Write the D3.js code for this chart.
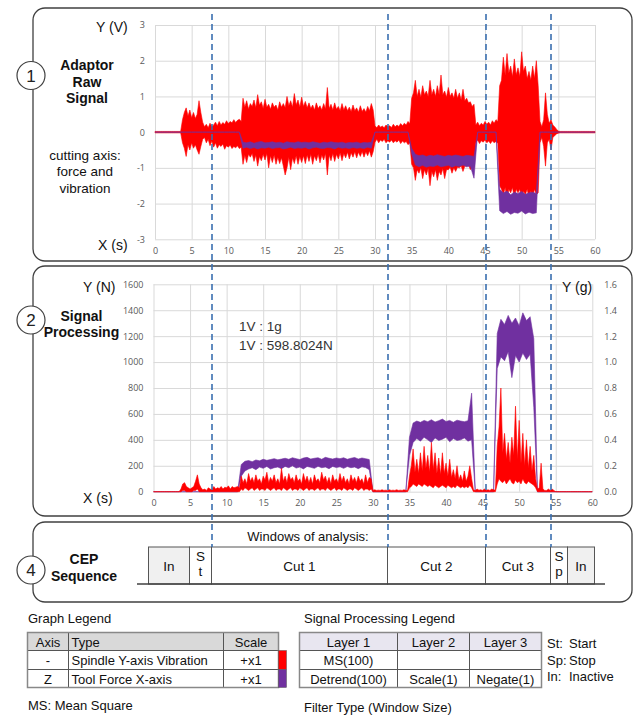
<!DOCTYPE html>
<html>
<head>
<meta charset="utf-8">
<script src="https://cdn.jsdelivr.net/npm/d3@7"></script>
<style>
  body { margin: 0; background: #fff; }
  svg { display: block; font-family: "Liberation Sans", Arial, sans-serif; }
</style>
</head>
<body>
<div id="figure"></div>
<script>
// force traces are read every 0.5 s, vibration traces every 0.25 s (0 .. 60 s)
var sampleTimes = d3.range(0, 60.5, 0.5);
var fineTimes = d3.range(0, 60.25, 0.25);

var xTicks = [0, 5, 10, 15, 20, 25, 30, 35, 40, 45, 50, 55, 60];
var rawTicks = [-3, -2, -1, 0, 1, 2, 3];
var forceTicks = [0, 200, 400, 600, 800, 1000, 1200, 1400, 1600];
var accelTicks = [0, 0.2, 0.4, 0.6, 0.8, 1.0, 1.2, 1.4, 1.6];

// panel 1: raw adaptor signal (V), upper / lower envelope of each trace
var rawVibHi = [0.02,0.02,0.02,0.02,0.02,0.02,0.02,0.02,0.02,0.02,0.02,0.02,0.02,0.02,0.02,
  0.35,0.55,0.68,0.45,0.62,0.4,0.55,0.38,0.5,0.88,0.55,0.28,
  0.15,0.22,0.12,0.25,0.15,0.2,0.28,0.18,0.3,0.2,0.27,0.22,0.32,0.24,0.3,0.26,0.35,0.27,0.33,0.36,0.3,
  0.95,0.7,0.88,0.65,0.8,0.72,0.9,0.68, 1.05,0.75,0.85,0.66,0.92,0.7,0.78,0.64,
  0.82,0.7,0.76,0.62,0.85,0.7,0.8,0.68, 1.0,0.74,0.88,0.7,1.08,0.76,0.9,0.7,
  0.98,0.72,0.86,0.68,0.82,0.66,0.76,0.62, 0.82,0.66,0.74,0.62,0.8,0.65,1.25,0.66,
  0.78,0.62,0.82,0.64,0.72,0.6,0.8,0.62, 0.74,0.6,0.7,0.58,0.76,0.6,0.68,0.56,
  0.74,0.58,0.66,0.56,0.72,0.6,0.8,0.62,
  0.18,0.12,0.2,0.14,0.17,0.12,0.2,0.15,0.18,0.13,0.22,0.15,0.2,0.16,0.24,0.18,0.25,0.2,0.3,0.24,
  0.95,1.1,1.45,1.0, 1.2,0.98,1.3,1.05, 1.15,1.0,1.45,1.05, 1.2,1.0,1.3,1.05, 1.6,1.05,1.15,0.98,
  1.25,1.0,1.1,0.95, 1.2,0.95,1.1,0.9, 1.2,0.88,0.95,0.82, 0.85,0.72,0.78,
  0.2,0.28,0.18,0.25,0.2,0.3,0.22,0.28,0.2,0.32,0.25,0.35,0.3,
  1.3,1.45,2.1,1.6, 2.2,1.65,1.85,1.55, 2.05,1.6,1.8,1.55, 2.25,1.7,1.85,1.5, 1.7,1.45,1.85,1.5, 2.0,1.3,
  0.3,0.15,0.35,1.1,0.5,0.25,0.35,0.2,0.15,0.08,0.03,
  0.02,0.02,0.02,0.02,0.02,0.02,0.02,0.02,0.02,0.02,0.02,0.02,0.02,0.02,0.02,0.02,0.02,0.02,0.02,0.02];
var rawVibLo = [-0.02,-0.02,-0.02,-0.02,-0.02,-0.02,-0.02,-0.02,-0.02,-0.02,-0.02,-0.02,-0.02,-0.02,-0.02,
  -0.3,-0.45,-0.68,-0.35,-0.5,-0.3,-0.45,-0.35,-0.5,-0.62,-0.4,-0.2,
  -0.15,-0.3,-0.2,-0.38,-0.25,-0.42,-0.3,-0.45,-0.35,-0.4,-0.33,-0.48,-0.38,-0.42,-0.36,-0.46,-0.4,-0.44,-0.38,-0.46,-0.42,
  -0.9,-0.65,-0.85,-0.62,-0.7,-0.6,-0.82,-0.64, -0.95,-0.68,-0.8,-0.62,-0.78,-0.6,-1.0,-0.66,
  -0.85,-0.64,-0.9,-0.7,-0.88,-0.72,-0.95,-1.2, -1.0,-0.7,-1.05,-0.72,-0.88,-0.66,-0.9,-0.68,
  -0.85,-0.66,-0.88,-0.64,-0.82,-0.62,-0.9,-0.66, -0.8,-0.62,-0.86,-0.64,-0.78,-0.6,-1.2,-0.64,
  -0.8,-0.6,-0.82,-0.62,-0.75,-0.58,-0.8,-0.6, -0.72,-0.56,-0.75,-0.58,-0.7,-0.55,-0.72,-0.56,
  -0.68,-0.54,-0.7,-0.55,-0.66,-0.52,-0.7,-0.55,
  -0.28,-0.2,-0.3,-0.22,-0.26,-0.2,-0.3,-0.24,-0.28,-0.22,-0.3,-0.24,-0.28,-0.22,-0.32,-0.25,-0.3,-0.26,-0.35,-0.3,
  -0.9,-1.0,-1.35,-1.05, -1.15,-1.0,-1.3,-1.05, -1.2,-1.02,-1.5,-1.1, -1.25,-1.05,-1.35,-1.1, -1.2,-1.02,-1.3,-1.05,
  -1.05,-0.98,-1.15,-1.0, -1.1,-0.98,-1.0,-0.95, -1.1,-0.95,-0.95,-0.9, -1.05,-0.95,-1.0,
  -0.3,-0.22,-0.32,-0.24,-0.28,-0.22,-0.3,-0.25,-0.32,-0.24,-0.3,-0.26,-0.32,
  -1.5,-1.6,-1.75,-1.55, -1.9,-1.6,-1.7,-1.55, -1.85,-1.6,-1.7,-1.6, -1.9,-1.65,-1.75,-1.6, -1.85,-1.65,-1.8,-1.6, -1.75,-1.7,
  -0.3,-0.15,-0.4,-0.95,-0.3,-0.2,-0.5,-0.15,-0.1,-0.05,-0.03,
  -0.02,-0.02,-0.02,-0.02,-0.02,-0.02,-0.02,-0.02,-0.02,-0.02,-0.02,-0.02,-0.02,-0.02,-0.02,-0.02,-0.02,-0.02,-0.02,-0.02];
var rawForceHi = [0,0,0,0,0,0,0,0,0,0,0,0,0,0,0,0,0,0,0,0,0,0,0,0,
  -0.28,-0.3,-0.27,-0.31,-0.28,-0.26,-0.3,-0.29,-0.27,-0.3,-0.28,-0.31,-0.27,-0.29,-0.3,-0.27,-0.29,-0.28,
  -0.3,-0.27,-0.29,-0.31,-0.28,-0.3,-0.27,-0.29,-0.3,-0.28,-0.31,-0.29,-0.3,-0.28,-0.31,-0.29,-0.3,-0.28,
  0,0,0,0,0,0,0,0,0,0,
  -0.45,-0.62,-0.66,-0.64,-0.68,-0.65,-0.67,-0.63,-0.66,-0.68,-0.65,-0.67,-0.64,-0.66,-0.68,-0.65,-0.66,-0.68,
  0,0,0,0,0,0,
  -1.6,-1.7,-1.65,-1.75,-1.68,-1.72,-1.66,-1.74,-1.7,-1.68,-1.72,
  0,0,0,0,0,0,0,0,0,0,0,0,0,0,0,0];
var rawForceLo = [0,0,0,0,0,0,0,0,0,0,0,0,0,0,0,0,0,0,0,0,0,0,0,0,
  -0.45,-0.42,-0.46,-0.43,-0.47,-0.44,-0.45,-0.42,-0.46,-0.44,-0.43,-0.47,-0.45,-0.42,-0.46,-0.44,-0.45,-0.43,
  -0.47,-0.44,-0.42,-0.45,-0.46,-0.43,-0.44,-0.47,-0.42,-0.45,-0.44,-0.46,-0.43,-0.45,-0.44,-0.46,-0.42,-0.45,
  0,0,0,0,0,0,0,0,0,0,
  -0.6,-0.92,-0.97,-0.93,-0.98,-0.95,-0.96,-0.92,-0.97,-0.95,-0.93,-0.98,-0.94,-0.96,-0.92,-0.97,-0.95,-1.29,
  0,0,0,0,0,0,
  -2.2,-2.28,-2.22,-2.3,-2.25,-2.27,-2.21,-2.29,-2.24,-2.28,-2.26,
  0,0,0,0,0,0,0,0,0,0,0,0,0,0,0,0];

// panel 2: processed signals, force in N (left axis), vibration mean square in g (right axis)
var forceHi = [0,0,0,0,0,0,0,0,0,0,0,0,0,0,0,0,0,0,0,0,0,0,0,0,
  210,235,240,232,245,238,250,242,248,255,246,252,258,250,262,255,248,260,
  265,252,258,262,250,265,258,252,260,255,262,250,258,264,252,260,255,248,
  0,0,0,0,0,0,0,0,0,0,
  420,530,545,535,550,540,555,538,548,560,542,550,536,552,545,540,548,760,
  0,0,0,0,0,0,
  1220,1330,1290,1360,1300,1340,1280,1380,1320,1350,1180,
  0,0,0,0,0,0,0,0,0,0,0,0,0,0,0,0];
var forceLo = [0,0,0,0,0,0,0,0,0,0,0,0,0,0,0,0,0,0,0,0,0,0,0,0,
  120,160,175,185,170,190,180,195,175,185,190,178,195,185,200,182,190,176,
  195,188,180,196,185,190,178,195,186,192,180,194,185,190,178,192,186,170,
  0,0,0,0,0,0,0,0,0,0,
  280,380,410,390,420,400,380,415,395,405,420,385,410,395,400,415,390,400,
  0,0,0,0,0,0,
  950,1040,1010,1080,880,1050,1000,1070,1020,1060,650,
  0,0,0,0,0,0,0,0,0,0,0,0,0,0,0,0];
var msVibHi = [0,0,0,0,0,0,0,0,0,0,0,0,0,0,0,
  0.02,0.06,0.07,0.04,0.03,0.02,0.03,0.04,0.08,0.13,0.06,0.03,
  0.015,0.02,0.01,0.03,0.02,0.015,0.04,0.02,0.03,0.025,0.04,0.02,0.035,0.03,0.045,0.02,0.04,0.03,0.035,0.04,0.03,
  0.12,0.07,0.1,0.06,0.14,0.08,0.11,0.07, 0.13,0.08,0.1,0.06,0.12,0.09,0.15,0.07,
  0.11,0.08,0.13,0.07,0.1,0.06,0.18,0.08, 0.12,0.07,0.14,0.09,0.11,0.07,0.13,0.08,
  0.1,0.06,0.14,0.08,0.12,0.07,0.11,0.06, 0.13,0.08,0.1,0.07,0.15,0.09,0.12,0.07,
  0.11,0.06,0.13,0.08,0.1,0.07,0.14,0.08, 0.12,0.07,0.1,0.06,0.13,0.08,0.11,0.07,
  0.12,0.08,0.1,0.06,0.13,0.07,0.11,0.1,
  0.01,0.015,0.01,0.012,0.01,0.015,0.01,0.012,0.01,0.015,0.01,0.012,0.01,0.015,0.01,0.012,0.01,0.015,0.01,0.012,
  0.12,0.2,0.33,0.15, 0.25,0.14,0.3,0.16, 0.35,0.18,0.28,0.15, 0.38,0.17,0.3,0.14, 0.26,0.13,0.3,0.14,
  0.22,0.12,0.25,0.11, 0.17,0.1,0.2,0.09, 0.13,0.08,0.16,0.08, 0.12,0.2,0.1,
  0.015,0.01,0.02,0.012,0.015,0.01,0.02,0.012,0.015,0.01,0.02,0.015,0.012,
  0.35,0.5,0.8,0.3, 0.45,0.25,0.38,0.22, 0.42,0.28,0.66,0.25, 0.55,0.22,0.45,0.2, 0.4,0.18,0.35,0.16, 0.28,0.1,
  0.02,0.03,0.22,0.02,0.01,0.01,0.02,0.01,0.02,0.01,0,
  0,0,0,0,0,0,0,0,0,0,0,0,0,0,0,0,0,0,0,0];
var msVibLo = [0,0,0,0,0,0,0,0,0,0,0,0,0,0,0,
  0,0.01,0.01,0,0,0,0,0.01,0.01,0.02,0,0,
  0,0,0,0,0,0,0,0,0,0,0,0,0,0,0,0,0,0,0,0,0,
  0.02,0.01,0.03,0.02,0.01,0.02,0.03,0.01, 0.02,0.03,0.01,0.02,0.02,0.01,0.03,0.02,
  0.01,0.02,0.03,0.01,0.02,0.02,0.01,0.03, 0.02,0.01,0.02,0.03,0.01,0.02,0.02,0.01,
  0.03,0.02,0.01,0.02,0.03,0.01,0.02,0.02, 0.01,0.02,0.03,0.01,0.02,0.02,0.01,0.03,
  0.02,0.01,0.02,0.03,0.01,0.02,0.02,0.01, 0.03,0.02,0.01,0.02,0.02,0.01,0.03,0.02,
  0.01,0.02,0.03,0.01,0.02,0.02,0.01,0.02,
  0,0,0,0,0,0,0,0,0,0,0,0,0,0,0,0,0,0,0,0,
  0.03,0.04,0.06,0.05, 0.04,0.06,0.05,0.04, 0.06,0.05,0.04,0.05, 0.04,0.03,0.05,0.04, 0.03,0.04,0.05,0.04,
  0.03,0.05,0.04,0.03, 0.04,0.03,0.05,0.04, 0.03,0.04,0.03,0.04, 0.03,0.05,0.03,
  0,0,0,0,0,0,0,0,0,0,0,0,0,
  0.06,0.1,0.08,0.07, 0.09,0.06,0.08,0.1, 0.07,0.06,0.09,0.07, 0.08,0.06,0.1,0.07, 0.06,0.08,0.07,0.06, 0.05,0.03,
  0,0,0,0,0,0,0,0,0,0,0,
  0,0,0,0,0,0,0,0,0,0,0,0,0,0,0,0,0,0,0,0];

// CEP sequence (seconds on the raw-signal time axis)
var cepLabels = [["In"], ["S", "t"], ["Cut 1"], ["Cut 2"], ["Cut 3"], ["S", "p"], ["In"]];
var cepEdges = [-0.95, 4.64, 7.64, 31.7, 45.0, 53.9, 56.2, 59.9];
var cepShaded = [true, false, false, false, false, false, true];
var windowMarks = [7.64, 31.7, 45.0, 53.9];

// legends
var graphLegendHead = ["Axis", "Type", "Scale"];
var graphLegendRows = [["-", "Spindle Y-axis Vibration", "+x1"], ["Z", "Tool Force X-axis", "+x1"]];
var seriesColors = ["#ff0000", "#7030a0"];
var procLegendHead = ["Layer 1", "Layer 2", "Layer 3"];
var procLegendRows = [["MS(100)", "", ""], ["Detrend(100)", "Scale(1)", "Negate(1)"]];
var abbrevs = [["St:", "Start"], ["Sp:", "Stop"], ["In:", "Inactive"]];

var RED = seriesColors[0], PURPLE = seriesColors[1];

var svg = d3.select("#figure").append("svg")
    .attr("width", 633)
    .attr("height", 716);

var gridLayer = svg.append("g");
var dataLayer = svg.append("g");
var topLayer = svg.append("g");

// rounded frames and numbered circles
function frame(y, h, num, cy) {
  topLayer.append("rect")
      .attr("x", 33).attr("y", y)
      .attr("width", 599).attr("height", h)
      .attr("rx", 12)
      .attr("fill", "none")
      .attr("stroke", "#404040")
      .attr("stroke-width", 1.3);
  topLayer.append("circle")
      .attr("cx", 31).attr("cy", cy).attr("r", 14)
      .attr("fill", "#fff")
      .attr("stroke", "#404040")
      .attr("stroke-width", 1.2);
  topLayer.append("text")
      .attr("x", 31).attr("y", cy + 6)
      .attr("text-anchor", "middle")
      .attr("font-size", 17)
      .attr("fill", "#222")
      .text(num);
}
frame(8, 253, "1", 75.5);
frame(266, 250, "2", 320);
frame(522, 80, "4", 570);

function lines(arr, x, y0, step, size, weight, anchor) {
  arr.forEach(function(s, i) {
    topLayer.append("text")
        .attr("x", x).attr("y", y0 + i * step)
        .attr("text-anchor", anchor || "middle")
        .attr("font-size", size)
        .attr("font-weight", weight || "normal")
        .attr("fill", "#111")
        .text(s);
  });
}

// grid + ticks
function grid(x, y, ticksY, fmt, w, h) {
  gridLayer.append("g")
      .attr("class", "grid")
      .attr("transform", "translate(0," + y.range()[0] + ")")
      .call(d3.axisBottom(x).tickValues(xTicks).tickSize(-h).tickSizeOuter(0).tickPadding(8));
  gridLayer.append("g")
      .attr("class", "grid")
      .attr("transform", "translate(" + x.range()[0] + ",0)")
      .call(d3.axisLeft(y).tickValues(ticksY).tickSize(-w).tickSizeOuter(0).tickPadding(10).tickFormat(fmt));
}

function band(x, y, times, hi, lo, color) {
  var rows = times.map(function(t, i) { return {t: t, hi: hi[i], lo: lo[i]}; });
  dataLayer.append("path")
      .datum(rows)
      .attr("fill", color)
      .attr("stroke", color)
      .attr("stroke-width", 0.6)
      .attr("stroke-linejoin", "round")
      .attr("d", d3.area()
        .x(function(d) { return x(d.t); })
        .y0(function(d) { return y(d.lo); })
        .y1(function(d) { return y(d.hi); }));
}

// ---------- panel 1 ----------
var x1 = d3.scaleLinear().domain([0, 60]).range([155, 595]);
var y1 = d3.scaleLinear().domain([-3, 3]).range([239.3, 25]);
grid(x1, y1, rawTicks, function(d) { return String(d); }, 440, 214.3);
band(x1, y1, fineTimes, rawVibHi, rawVibLo, RED);
band(x1, y1, sampleTimes, rawForceHi, rawForceLo, PURPLE);

lines(["Y (V)"], 96, 32, 0, 14, "normal", "start");
lines(["X (s)"], 98, 250, 0, 14, "normal", "start");
lines(["Adaptor", "Raw", "Signal"], 87, 70, 16.5, 14, "bold");
lines(["cutting axis:", "force and", "vibration"], 85, 160, 16.3, 13.5);

// ---------- panel 2 ----------
var x2 = d3.scaleLinear().domain([0, 60]).range([153.5, 592.3]);
var y2 = d3.scaleLinear().domain([0, 1600]).range([491.7, 284.3]);
var y2r = d3.scaleLinear().domain([0, 1.6]).range([491.7, 284.3]);
grid(x2, y2, forceTicks, function(d) { return String(d); }, 438.8, 207.4);
gridLayer.append("g")
    .attr("class", "grid")
    .attr("transform", "translate(592.3,0)")
    .call(d3.axisRight(y2r).tickValues(accelTicks).tickSize(0).tickPadding(12).tickFormat(d3.format(".1f")))
    .selectAll("line").remove();

band(x2, y2, sampleTimes, forceHi, forceLo, PURPLE);
band(x2, y2r, fineTimes, msVibHi, msVibLo, RED);

lines(["Y (N)"], 83, 292, 0, 14, "normal", "start");
lines(["X (s)"], 83, 503, 0, 14, "normal", "start");
lines(["Y (g)"], 562, 292, 0, 14, "normal", "start");
lines(["Signal", "Processing"], 81.5, 321, 16, 14, "bold");
topLayer.append("text").attr("x", 239).attr("y", 331).attr("font-size", 13.5).attr("fill", "#333").text("1V : 1g");
topLayer.append("text").attr("x", 239).attr("y", 350).attr("font-size", 13.5).attr("fill", "#333").text("1V : 598.8024N");

gridLayer.selectAll(".domain").remove();
gridLayer.selectAll("line").attr("stroke", "#d9d9d9");
gridLayer.selectAll("text").attr("fill", "#595959").attr("font-size", 9)
    .attr("font-family", "'Open Sans', sans-serif");

// ---------- panel 4: CEP sequence ----------
var boxTop = 547, boxBot = 584;
lines(["CEP", "Sequence"], 84, 564, 16.5, 14, "bold");
lines(["Windows of analysis:"], 308, 541, 0, 13);

cepLabels.forEach(function(lab, i) {
  var xa = Math.round(x1(cepEdges[i])) + 0.5, xb = Math.round(x1(cepEdges[i + 1])) + 0.5;
  topLayer.append("rect")
      .attr("x", xa).attr("y", boxTop)
      .attr("width", xb - xa).attr("height", boxBot - boxTop)
      .attr("fill", cepShaded[i] ? "#f0f0f0" : "#fff")
      .attr("stroke", "#555")
      .attr("stroke-width", 1);
  var cx = (xa + xb) / 2;
  if (lab.length === 1) {
    topLayer.append("text").attr("x", cx).attr("y", (boxTop + boxBot) / 2 + 5)
        .attr("text-anchor", "middle").attr("font-size", 13.5).attr("fill", "#111").text(lab[0]);
  } else {
    lab.forEach(function(s, k) {
      topLayer.append("text").attr("x", cx).attr("y", boxTop + 14 + k * 15)
          .attr("text-anchor", "middle").attr("font-size", 13.5).attr("fill", "#111").text(s);
    });
  }
});
topLayer.append("line")
    .attr("x1", 137).attr("x2", 605)
    .attr("y1", boxBot).attr("y2", boxBot)
    .attr("stroke", "#404040").attr("stroke-width", 1.5);

// dashed window markers
topLayer.selectAll(".mark")
  .data(windowMarks)
  .enter().append("line")
    .attr("class", "mark")
    .attr("x1", function(d) { return Math.round(x1(d)) + 1; })
    .attr("x2", function(d) { return Math.round(x1(d)) + 1; })
    .attr("y1", 14).attr("y2", boxTop)
    .attr("stroke", "#3a6fb0")
    .attr("stroke-width", 1.6)
    .attr("stroke-dasharray", "6,4");

// ---------- legends ----------
function table(cols, rows0, head, body, headFill, leftCol) {
  var all = [head].concat(body);
  all.forEach(function(r, ri) {
    r.forEach(function(s, ci) {
      topLayer.append("rect")
          .attr("x", cols[ci]).attr("y", rows0[ri])
          .attr("width", cols[ci + 1] - cols[ci]).attr("height", rows0[ri + 1] - rows0[ri])
          .attr("fill", ri === 0 ? headFill : "#fff")
          .attr("stroke", "#555").attr("stroke-width", 1);
      var left = ci === leftCol;
      topLayer.append("text")
          .attr("x", left ? cols[ci] + 3 : (cols[ci] + cols[ci + 1]) / 2)
          .attr("y", rows0[ri] + 14)
          .attr("text-anchor", left ? "start" : "middle")
          .attr("font-size", 13).attr("fill", "#111")
          .text(s);
    });
  });
  topLayer.append("rect")
      .attr("x", cols[0]).attr("y", rows0[0])
      .attr("width", cols[cols.length - 1] - cols[0]).attr("height", rows0[rows0.length - 1] - rows0[0])
      .attr("fill", "none").attr("stroke", "#888").attr("stroke-width", 1.5);
}
var legRows = [632.5, 650.5, 669.5, 687.5];
lines(["Graph Legend"], 28, 623, 0, 13, "normal", "start");
table([27.5, 68.5, 223.5, 278.5], legRows, graphLegendHead, graphLegendRows, "#d9d9d9", 1);
seriesColors.forEach(function(c, i) {
  topLayer.append("rect")
      .attr("x", 278.5).attr("y", legRows[i + 1])
      .attr("width", 8).attr("height", legRows[i + 2] - legRows[i + 1])
      .attr("fill", c).attr("stroke", "#555").attr("stroke-width", 0.5);
});
lines(["MS: Mean Square"], 28, 710, 0, 13, "normal", "start");

lines(["Signal Processing Legend"], 304, 623, 0, 13, "normal", "start");
table([299.5, 397.5, 469.5, 541.5], legRows, procLegendHead, procLegendRows, "#e8e6f0", -1);
abbrevs.forEach(function(a, i) {
  topLayer.append("text").attr("x", 547).attr("y", 648 + i * 16.5).attr("font-size", 13).attr("fill", "#111").text(a[0]);
  topLayer.append("text").attr("x", 569).attr("y", 648 + i * 16.5).attr("font-size", 13).attr("fill", "#111").text(a[1]);
});
lines(["Filter Type (Window Size)"], 304, 712, 0, 13, "normal", "start");
</script>
</body>
</html>
